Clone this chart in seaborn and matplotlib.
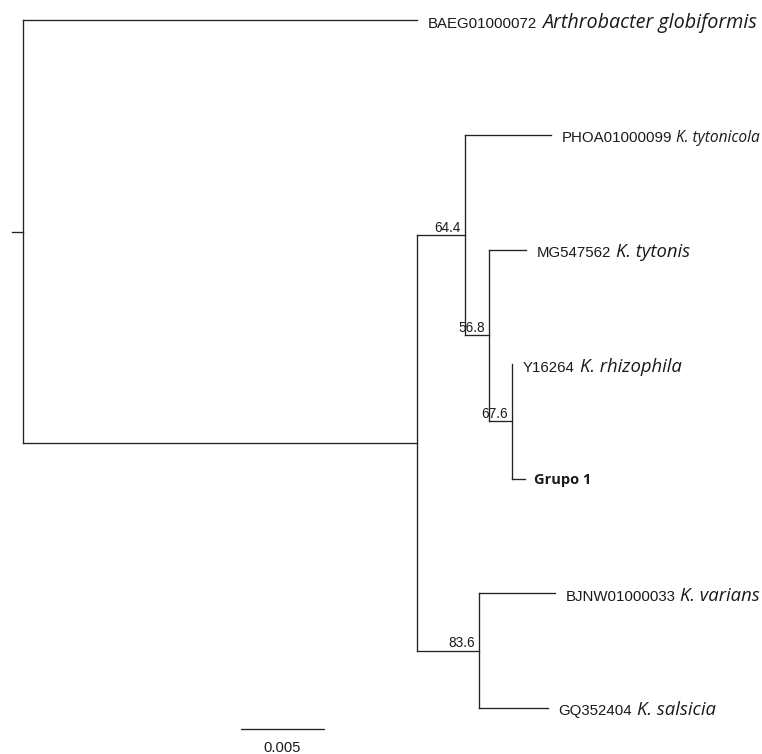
import numpy as np
import pandas as pd
import matplotlib
matplotlib.use("Agg")
import matplotlib.pyplot as plt
import seaborn as sns

# ---------------- data ----------------
node_names = ["root", "Arth", "ingroup", "n644", "tytonicola", "n568", "tytonis",
              "n676", "rhizophila", "grupo1", "n836", "varians", "salsicia"]
parent_index = [-1, 0, 0, 2, 3, 3, 5, 5, 7, 7, 2, 10, 10]
branch_length = [0.00066, 0.0236, 0.0236, 0.00286, 0.00515, 0.00144, 0.00222,
                 0.00138, 0.0, 0.00078, 0.00369, 0.00455, 0.00413]
bootstrap_nodes = ["n644", "n568", "n676", "n836"]
bootstrap_values = [64.4, 56.8, 67.6, 83.6]
leaf_order = ["Arth", "tytonicola", "tytonis", "rhizophila", "grupo1", "varians", "salsicia"]
accessions = ["BAEG01000072", "PHOA01000099", "MG547562", "Y16264", "", "BJNW01000033", "GQ352404"]
species = ["Arthrobacter globiformis", "K. tytonicola", "K. tytonis", "K. rhizophila",
           "Grupo 1", "K. varians", "K. salsicia"]
scale_length = 0.005
scale_label = "0.005"

# ---------------- layout of the tree ----------------
n = len(node_names)
children = {i: [] for i in range(n)}
for i, p in enumerate(parent_index):
    if p >= 0:
        children[p].append(i)

xpos = np.zeros(n)
for i in range(n):
    p = parent_index[i]
    xpos[i] = branch_length[i] + (xpos[p] if p >= 0 else 0.0)

ypos = np.full(n, np.nan)
for k, name in enumerate(leaf_order):
    ypos[node_names.index(name)] = k


def set_y(i):
    if children[i]:
        ys = [set_y(c) for c in children[i]]
        ypos[i] = np.mean(ys)
    return ypos[i]


set_y(0)

rows = []
seg = 0
# root stub
rows += [dict(seg=seg, x=0.0, y=ypos[0]), dict(seg=seg, x=xpos[0], y=ypos[0])]
seg += 1
for i in range(1, n):
    p = parent_index[i]
    rows += [dict(seg=seg, x=xpos[p], y=ypos[i]), dict(seg=seg, x=xpos[i], y=ypos[i])]
    seg += 1
for i in range(n):
    if children[i]:
        ys = [ypos[c] for c in children[i]]
        rows += [dict(seg=seg, x=xpos[i], y=min(ys)), dict(seg=seg, x=xpos[i], y=max(ys))]
        seg += 1
segs = pd.DataFrame(rows)

# ---------------- figure ----------------
sns.set_theme(style="white")
plt.rcParams["font.family"] = ["Liberation Sans", "DejaVu Sans"]

W, H, DPI = 762, 754, 100
fig = plt.figure(figsize=(W / DPI, H / DPI), dpi=DPI)
ax = fig.add_axes([0, 0, 1, 1])

px_per_unit = 16700.0
x0_px = 12.0
y0_px = 20.3
px_per_leaf = 114.6

line_col = "#222222"
text_col = "#1a1a1a"

sns.lineplot(data=segs, x="x", y="y", units="seg", estimator=None, sort=False,
             color=line_col, linewidth=0.95, ax=ax, legend=False)
for l in ax.lines:
    l.set_solid_capstyle("projecting")

ax.set_xlim(-x0_px / px_per_unit, (W - x0_px) / px_per_unit)
ax.set_ylim((H - y0_px) / px_per_leaf, -y0_px / px_per_leaf)
ax.set_axis_off()

# leaf labels
species_sizes = {"Arthrobacter globiformis": 14.2, "K. tytonicola": 11.2}
for name, acc, sp in zip(leaf_order, accessions, species):
    i = node_names.index(name)
    xl, yl = xpos[i], ypos[i]
    if acc:
        a = ax.annotate(acc, xy=(xl, yl), xytext=(7.6, -5.4), textcoords="offset points",
                        ha="left", va="baseline", fontsize=10.8, color=text_col,
                        family=["Liberation Sans", "DejaVu Sans"])
        fs = species_sizes.get(sp, 13.3)
        ax.annotate(sp, xy=(1, yl), xycoords=(a, "data"), xytext=(0.28 * fs, -5.4),
                    textcoords="offset points", ha="left", va="baseline",
                    fontsize=fs, style="italic", color=text_col,
                    family=["Open Sans", "DejaVu Sans"])
    else:
        ax.annotate(sp, xy=(xl, yl), xytext=(6.4, -3.9), textcoords="offset points",
                    ha="left", va="baseline", fontsize=10.5, weight="bold",
                    color=text_col, family=["Open Sans", "DejaVu Sans"])

# bootstrap values
for nm, bv in zip(bootstrap_nodes, bootstrap_values):
    i = node_names.index(nm)
    ax.annotate(f"{bv:.1f}", xy=(xpos[i], ypos[i]), xytext=(-2.9, 2.3),
                textcoords="offset points", ha="right", va="baseline",
                fontsize=9.8, color=text_col, family=["Liberation Sans", "DejaVu Sans"])

# scale bar
sb_x = (240.7 - x0_px) / px_per_unit
sb_y = (729.3 - y0_px) / px_per_leaf
sb = pd.DataFrame(dict(x=[sb_x, sb_x + scale_length], y=[sb_y, sb_y]))
sns.lineplot(data=sb, x="x", y="y", sort=False, color=line_col, linewidth=0.95, ax=ax)
ax.text(sb_x + scale_length / 2, (752.3 - y0_px) / px_per_leaf, scale_label,
        ha="center", va="baseline", fontsize=10.6, color=text_col,
        family=["Liberation Sans", "DejaVu Sans"])
ax.set_axis_off()

fig.savefig("out.png", dpi=DPI)
